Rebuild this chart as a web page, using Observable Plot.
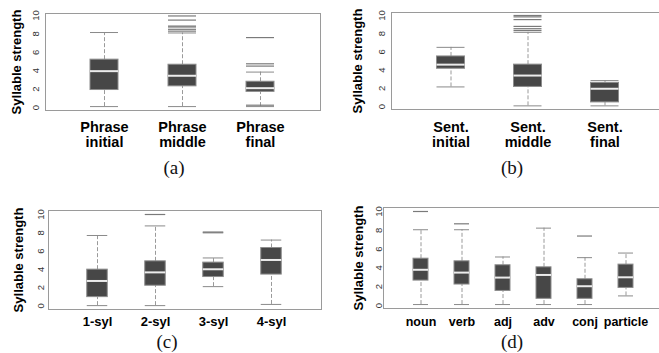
<!DOCTYPE html>
<html>
<head>
<meta charset="utf-8">
<script src="https://cdn.jsdelivr.net/npm/d3@7"></script>
<script src="https://cdn.jsdelivr.net/npm/@observablehq/plot@0.6"></script>
<style>
  html, body { margin: 0; padding: 0; background: #fff; }
  #root { position: relative; width: 659px; height: 353px; overflow: hidden; background: #fff; }
  #root svg { position: absolute; background: transparent; }
  .cap { position: absolute; font-family: "Liberation Serif", "Times New Roman", serif; font-size: 19px; line-height: 19px; transform: translateX(-50%); color: #111; }
</style>
</head>
<body>
<div id="root"></div>
<script>
// ---------------- DATA ----------------
const yTicks = [0, 2, 4, 6, 8, 10];
const yTitle = "Syllable strength";

// (a) phrase position
const catsA = ["Phrase\ninitial", "Phrase\nmiddle", "Phrase\nfinal"];
const loA  = [0.1, 0.1, 0.1];
const q1A  = [1.9, 2.3, 1.7];
const medA = [3.95, 3.45, 2.1];
const q3A  = [5.2, 4.65, 2.8];
const hiA  = [8.15, 8.1, 3.85];
const outCatA = [1, 1, 1, 1, 1, 1, 2, 2, 2, 2];
const outValA = [8.3, 8.5, 8.75, 8.85, 9.5, 9.95, 4.5, 4.75, 7.6, 0.25];

// (b) sentence position
const catsB = ["Sent.\ninitial", "Sent.\nmiddle", "Sent.\nfinal"];
const loB  = [2.15, 0.07, 0.07];
const q1B  = [4.15, 2.15, 0.45];
const medB = [4.6, 3.4, 1.95];
const q3B  = [5.5, 4.6, 2.6];
const hiB  = [6.5, 8.15, 2.85];
const outCatB = [1, 1, 1, 1, 1, 1];
const outValB = [8.35, 8.55, 8.8, 9.55, 9.85, 10.0];

// (c) word length in syllables
const catsC = ["1-syl", "2-syl", "3-syl", "4-syl"];
const loC  = [0.02, 0.02, 2.1, 0.15];
const q1C  = [0.95, 2.2, 3.15, 3.42];
const medC = [2.72, 3.66, 4.0, 5.02];
const q3C  = [3.96, 4.87, 4.73, 6.33];
const hiC  = [7.7, 8.75, 5.24, 7.2];
const outCatC = [1, 2, 2];
const outValC = [10.0, 8.08, 8.0];

// (d) part of speech
const catsD = ["noun", "verb", "adj", "adv", "conj", "particle"];
const loD  = [0.1, 0.1, 0.1, 0.1, 0.1, 1.02];
const q1D  = [2.65, 2.23, 1.55, 0.71, 0.71, 1.87];
const medD = [3.8, 3.5, 2.97, 3.25, 2.05, 3.0];
const q3D  = [4.98, 4.7, 4.28, 4.06, 2.79, 4.35];
const hiD  = [8.06, 8.06, 5.16, 8.23, 5.09, 5.58];
const outCatD = [0, 1, 4];
const outValD = [10.0, 8.69, 7.39];

const captions = ["(a)", "(b)", "(c)", "(d)"];

// ---------------- DRAWING ----------------
const root = document.getElementById("root");
const FONT = "'Liberation Sans', Arial, Helvetica, sans-serif";

function panel(d, L) {
  const rows = d.cats.map((c, i) => ({cat: c, lo: d.lo[i], q1: d.q1[i], med: d.med[i], q3: d.q3[i], hi: d.hi[i]}));
  const outs = d.outVal.map((v, i) => ({cat: d.cats[d.outCat[i]], v}));
  const bi = {insetLeft: L.boxInset, insetRight: L.boxInset};
  const svg = Plot.plot({
    width: L.width, height: L.height,
    marginLeft: L.mL, marginRight: L.mR, marginTop: L.mT, marginBottom: L.mB,
    style: {fontFamily: FONT, background: "transparent", overflow: "visible"},
    x: {type: "band", domain: d.cats, padding: 0, insetLeft: L.xIL, insetRight: L.xIR, label: null},
    y: {domain: [0, 10], insetTop: L.iT, insetBottom: L.iB, label: null},
    marks: [
      Plot.frame({stroke: "#9a9a9a", strokeWidth: 1}),
      Plot.ruleX(rows, {x: "cat", y1: "q3", y2: "hi", stroke: "#9a9a9a", strokeDasharray: "4,2"}),
      Plot.ruleX(rows, {x: "cat", y1: "lo", y2: "q1", stroke: "#9a9a9a", strokeDasharray: "4,2"}),
      Plot.tickY(rows, {x: "cat", y: "hi", stroke: "#8a8a8a", ...bi}),
      Plot.tickY(rows, {x: "cat", y: "lo", stroke: "#8a8a8a", ...bi}),
      Plot.tickY(outs, {x: "cat", y: "v", stroke: "#7a7a7a", strokeWidth: 1.2, ...bi}),
      Plot.barY(rows, {x: "cat", y1: "q1", y2: "q3", fill: "#474747", stroke: "#8c8c8c", strokeWidth: 1, ...bi}),
      Plot.tickY(rows, {x: "cat", y: "med", stroke: "#ececec", strokeWidth: 2, ...bi}),
      Plot.axisX({tickSize: 0, tickPadding: L.xPad, fontSize: L.xFont, fontWeight: "bold", lineHeight: 1.07, fill: "#000", label: null}),
      Plot.axisY(yTicks, {tickSize: 0, tickPadding: L.yPad, rotate: -90, textAnchor: "middle", fontSize: 9.5, fill: "#333", label: null}),
      Plot.text([yTitle], {frameAnchor: "left", textAnchor: "middle", lineAnchor: "middle", dx: L.titleDx, rotate: -90, fontWeight: "bold", fontSize: 13, fill: "#000"})
    ]
  });
  svg.style.left = L.left + "px";
  svg.style.top = L.top + "px";
  root.appendChild(svg);
}

panel({cats: catsA, lo: loA, q1: q1A, med: medA, q3: q3A, hi: hiA, outCat: outCatA, outVal: outValA},
  {left: 0, top: 0, width: 330, height: 150, mL: 45, mR: 10, mT: 13, mB: 40, iT: 2, iB: 3,
   xIL: 20, xIR: 21, boxInset: 25, xPad: 10, xFont: 14.5, yPad: 10, titleDx: -29});

panel({cats: catsB, lo: loB, q1: q1B, med: medB, q3: q3B, hi: hiB, outCat: outCatB, outVal: outValB},
  {left: 330, top: 0, width: 340, height: 150, mL: 61, mR: 0, mT: 12, mB: 41, iT: 3, iB: 3,
   xIL: 20.5, xIR: 27.5, boxInset: 24.5, xPad: 11, xFont: 14.5, yPad: 10, titleDx: -34});

panel({cats: catsC, lo: loC, q1: q1C, med: medC, q3: q3C, hi: hiC, outCat: outCatC, outVal: outValC},
  {left: 0, top: 195, width: 330, height: 140, mL: 48, mR: 9, mT: 15, mB: 26, iT: 4, iB: 3.7,
   xIL: 19.25, xIR: 19.75, boxInset: 18.75, xPad: 7, xFont: 13, yPad: 8, titleDx: -30});

panel({cats: catsD, lo: loD, q1: q1D, med: medD, q3: q3D, hi: hiD, outCat: outCatD, outVal: outValD},
  {left: 330, top: 195, width: 340, height: 140, mL: 53, mR: 0, mT: 12, mB: 27, iT: 4, iB: 3,
   xIL: 16.5, xIR: 24.5, boxInset: 13, xPad: 8, xFont: 12.5, yPad: 5, titleDx: -25});

const capPos = [[174, 158], [512, 158], [167, 332], [512, 332]];
captions.forEach((t, i) => {
  const el = document.createElement("div");
  el.className = "cap";
  el.textContent = t;
  el.style.left = capPos[i][0] + "px";
  el.style.top = capPos[i][1] + "px";
  root.appendChild(el);
});
</script>
</body>
</html>
